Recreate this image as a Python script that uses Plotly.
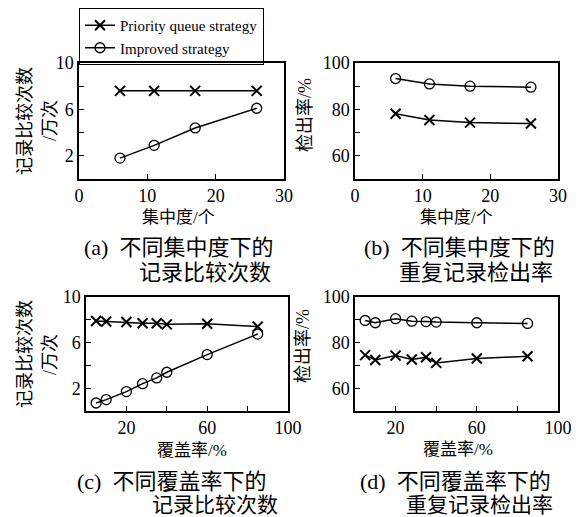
import plotly.graph_objects as go

# ---- data ----
a_x = [6, 11, 17, 26]
a_pq = [7.6, 7.6, 7.6, 7.6]
a_imp = [1.8, 2.9, 4.4, 6.1]

b_x = [6, 11, 17, 26]
b_pq = [78.1, 75.4, 74.3, 73.9]
b_imp = [93.3, 91.0, 90.0, 89.6]

c_x = [5, 10, 20, 28, 35, 40, 60, 85]
c_pq = [7.9, 7.85, 7.8, 7.7, 7.7, 7.6, 7.65, 7.4]
c_imp = [0.7, 1.0, 1.7, 2.4, 2.9, 3.4, 4.95, 6.75]

d_x = [5, 10, 20, 28, 35, 40, 60, 85]
d_pq = [74.5, 72.4, 74.3, 72.6, 73.6, 71.1, 73.0, 74.0]
d_imp = [89.7, 88.7, 90.5, 89.4, 89.2, 89.0, 88.7, 88.4]

series_names = ["Priority queue strategy", "Improved strategy"]

W, H = 585, 517
OFF = 8  # page body margin
SERIF = "Liberation Serif, Noto Sans CJK SC"
CJK = "Liberation Serif, Noto Sans CJK SC"

def px(x):
    return (x - OFF) / W

def py(y):
    return 1 - (y - OFF) / H

fig = go.Figure()

panels = [
    ("x", "y", a_x, a_pq, a_imp, True),
    ("x2", "y2", b_x, b_pq, b_imp, False),
    ("x3", "y3", c_x, c_pq, c_imp, False),
    ("x4", "y4", d_x, d_pq, d_imp, False),
]
for xa, ya, xs, pq, imp, show in panels:
    fig.add_trace(go.Scatter(
        x=xs, y=pq, xaxis=xa, yaxis=ya, mode="lines+markers",
        name=series_names[0], showlegend=show,
        line=dict(color="black", width=1.5),
        marker=dict(symbol="x-thin-open", size=10, color="black",
                    line=dict(color="black", width=2)),
    ))
    fig.add_trace(go.Scatter(
        x=xs, y=imp, xaxis=xa, yaxis=ya, mode="lines+markers",
        name=series_names[1], showlegend=show,
        line=dict(color="black", width=1.5),
        marker=dict(symbol="circle-open", size=10, color="black",
                    line=dict(color="black", width=1.3)),
    ))

def axis(dom, rng, tv, tt, anchor):
    return dict(domain=dom, range=rng, tickvals=tv, ticktext=tt,
                ticks="inside", ticklen=5, tickcolor="black",
                showline=True, linecolor="black", linewidth=1.5, mirror=True,
                showgrid=False, zeroline=False, anchor=anchor, automargin=False,
                tickfont=dict(family=SERIF, size=18, color="black"))

top_y = [py(179), py(63)]
bot_y = [py(411), py(297)]
a_dom = [px(79), px(284)]
b_dom = [px(355), px(558)]
c_dom = [px(86), px(288)]
d_dom = [px(355), px(558)]

fig.update_layout(
    width=W, height=H, autosize=False,
    margin=dict(l=0, r=0, t=0, b=0, autoexpand=False),
    paper_bgcolor="white", plot_bgcolor="white",
    xaxis=axis(a_dom, [0, 30], [0, 10, 20, 30], ["0", "10", "20", "30"], "y"),
    yaxis=axis(top_y, [0, 10], [2, 4, 6, 8, 10], ["2", "", "6", "", "10"], "x"),
    xaxis2=axis(b_dom, [0, 30], [0, 10, 20, 30], ["0", "10", "20", "30"], "y2"),
    yaxis2=axis(top_y, [50, 100], [60, 70, 80, 90, 100], ["60", "", "80", "", "100"], "x2"),
    xaxis3=axis(c_dom, [0, 100], [20, 40, 60, 80, 100], ["20", "", "60", "", "100"], "y3"),
    yaxis3=axis(bot_y, [0, 10], [2, 4, 6, 8, 10], ["2", "", "6", "", "10"], "x3"),
    xaxis4=axis(d_dom, [0, 100], [20, 40, 60, 80, 100], ["20", "", "60", "", "100"], "y4"),
    yaxis4=axis(bot_y, [50, 100], [60, 70, 80, 90, 100], ["60", "", "80", "", "100"], "x4"),
    legend=dict(x=px(79), y=1, xanchor="left", yanchor="top",
                bordercolor="black", borderwidth=1, bgcolor="rgba(0,0,0,0)",
                font=dict(family=SERIF, size=15, color="black"),
                tracegroupgap=0),
)

def ann(text, x, y, size, xanchor="center", angle=0):
    fig.add_annotation(text=text, x=px(x), y=py(y), xref="paper", yref="paper",
                       xanchor=xanchor, yanchor="middle", showarrow=False,
                       textangle=angle,
                       font=dict(family=CJK, size=size, color="black"))

# x-axis titles
ann("集中度/个", 178, 217, 17)
ann("集中度/个", 456, 217, 17)
ann("覆盖率/%", 192, 450, 17)
ann("覆盖率/%", 458, 449, 17)

# y-axis titles
ann("记录比较次数", 25, 121, 18, angle=-90)
ann("/万次", 50, 121, 18, angle=-90)
ann("检出率/%", 305, 115, 18, angle=-90)
ann("记录比较次数", 25, 354, 18, angle=-90)
ann("/万次", 50, 355, 18, angle=-90)
ann("检出率/%", 303, 346, 18, angle=-90)

# captions
ann("(a)  不同集中度下的", 82, 247, 22, xanchor="left")
ann("记录比较次数", 273, 272, 22, xanchor="right")
ann("(b)  不同集中度下的", 362, 247, 22, xanchor="left")
ann("重复记录检出率", 555, 272, 22, xanchor="right")
ann("(c)  不同覆盖率下的", 75, 481, 22, xanchor="left")
ann("记录比较次数", 280, 505, 21, xanchor="right")
ann("(d)  不同覆盖率下的", 358, 481, 22, xanchor="left")
ann("重复记录检出率", 555, 505, 21, xanchor="right")

fig.write_html("out.html")
